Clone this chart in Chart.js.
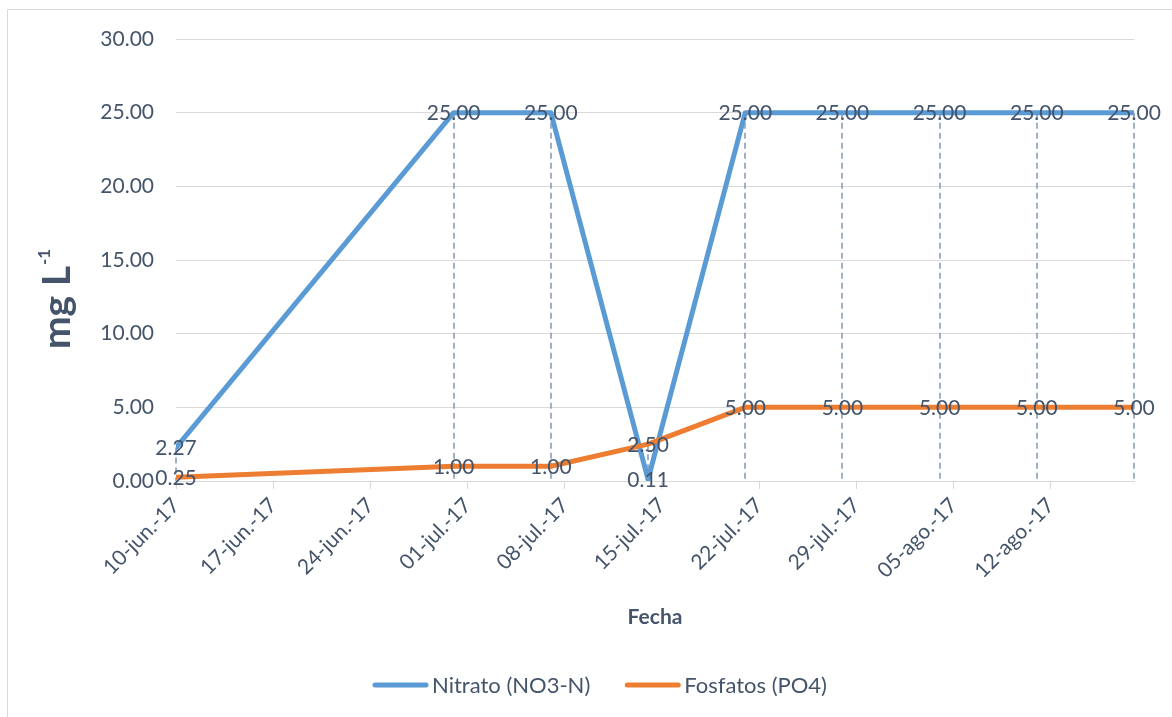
<!DOCTYPE html>
<html>
<head>
<meta charset="utf-8">
<script src="https://cdn.jsdelivr.net/npm/chart.js@4.4.0/dist/chart.umd.min.js"></script>
<style>
  body { margin: 0; background: #fff; }
  canvas { display: block; }
</style>
</head>
<body>
<canvas id="nutrient-chart" width="1172" height="717"></canvas>
<script>
var sampleDates = ['2017-06-10','2017-06-30','2017-07-07','2017-07-14','2017-07-21','2017-07-28','2017-08-04','2017-08-11','2017-08-18'];
var nitrato = [2.27, 25, 25, 0.11, 25, 25, 25, 25, 25];
var fosfatos = [0.25, 1, 1, 2.5, 5, 5, 5, 5, 5];
var xTickLabels = ['10-jun.-17','17-jun.-17','24-jun.-17','01-jul.-17','08-jul.-17','15-jul.-17','22-jul.-17','29-jul.-17','05-ago.-17','12-ago.-17'];

var textColor = '#44546A';
var gridColor = '#D9D9D9';
var fontFamily = 'Lato';

var startDay = Date.UTC(2017, 5, 10);
function dayOffset(s) {
  var p = s.split('-');
  return (Date.UTC(+p[0], +p[1] - 1, +p[2]) - startDay) / 86400000;
}
function toPoints(values) {
  return values.map(function (v, i) { return { x: dayOffset(sampleDates[i]), y: v }; });
}

// frame, drop lines, value labels, axis titles and legend
var extras = {
  id: 'extras',
  beforeDraw: function (chart) {
    var ctx = chart.ctx;
    ctx.save();
    ctx.strokeStyle = gridColor;
    ctx.lineWidth = 1;
    ctx.beginPath();
    ctx.moveTo(7.5, 717);
    ctx.lineTo(7.5, 9.5);
    ctx.lineTo(1172, 9.5);
    ctx.stroke();
    ctx.restore();
  },
  beforeDatasetsDraw: function (chart) {
    var ctx = chart.ctx;
    var bottom = chart.chartArea.bottom;
    var m0 = chart.getDatasetMeta(0).data;
    var m1 = chart.getDatasetMeta(1).data;
    ctx.save();
    ctx.strokeStyle = '#8497B0';
    ctx.lineWidth = 1.5;
    ctx.setLineDash([6, 4]);
    for (var i = 0; i < m0.length; i++) {
      var top = Math.min(m0[i].y, m1[i].y);
      ctx.beginPath();
      ctx.moveTo(Math.round(m0[i].x), top);
      ctx.lineTo(Math.round(m0[i].x), bottom);
      ctx.stroke();
    }
    ctx.restore();
  },
  afterDatasetsDraw: function (chart) {
    var ctx = chart.ctx;
    ctx.save();
    ctx.fillStyle = textColor;
    ctx.font = '21px ' + fontFamily;
    ctx.textAlign = 'center';
    ctx.textBaseline = 'middle';
    chart.data.datasets.forEach(function (ds, d) {
      chart.getDatasetMeta(d).data.forEach(function (pt, i) {
        ctx.fillText(ds.data[i].y.toFixed(2), pt.x, pt.y + 1);
      });
    });
    ctx.restore();
  },
  afterDraw: function (chart) {
    var ctx = chart.ctx;
    ctx.save();
    ctx.fillStyle = textColor;

    // y title with superscript
    ctx.translate(70, 299);
    ctx.rotate(-Math.PI / 2);
    ctx.font = 'bold 39px ' + fontFamily;
    var main = 'mg L';
    var wMain = ctx.measureText(main).width;
    ctx.font = 'bold 17px ' + fontFamily;
    var sup = '-1';
    var wSup = ctx.measureText(sup).width;
    var x0 = -(wMain + wSup + 1) / 2;
    ctx.textBaseline = 'alphabetic';
    ctx.textAlign = 'left';
    ctx.font = 'bold 39px ' + fontFamily;
    ctx.fillText(main, x0, 0);
    ctx.font = 'bold 17px ' + fontFamily;
    ctx.fillText(sup, x0 + wMain + 1, -20);
    ctx.setTransform(1, 0, 0, 1, 0, 0);

    // x title
    ctx.font = 'bold 21px ' + fontFamily;
    ctx.textAlign = 'center';
    ctx.textBaseline = 'middle';
    ctx.fillText('Fecha', (chart.chartArea.left + chart.chartArea.right) / 2, 617);

    // legend
    ctx.font = '22px ' + fontFamily;
    var lineLen = 55, gapText = 4, gapItem = 35;
    var items = chart.data.datasets.map(function (ds) {
      return { label: ds.label, color: ds.borderColor, w: ctx.measureText(ds.label).width };
    });
    var total = 0;
    items.forEach(function (it, i) { total += lineLen + gapText + it.w + (i ? gapItem : 0); });
    var x = 600 - total / 2;
    var y = 685;
    ctx.textAlign = 'left';
    items.forEach(function (it) {
      ctx.strokeStyle = it.color;
      ctx.lineWidth = 5;
      ctx.lineCap = 'round';
      ctx.beginPath();
      ctx.moveTo(x + 2, y);
      ctx.lineTo(x + lineLen - 2, y);
      ctx.stroke();
      ctx.fillText(it.label, x + lineLen + gapText, y + 1);
      x += lineLen + gapText + it.w + gapItem;
    });
    ctx.restore();
  }
};

var chart = new Chart(document.getElementById('nutrient-chart'), {
  type: 'line',
  data: {
    datasets: [
      {
        label: 'Nitrato (NO3-N)',
        data: toPoints(nitrato),
        borderColor: '#5B9BD5',
        backgroundColor: '#5B9BD5',
        borderWidth: 5,
        borderCapStyle: 'round',
        borderJoinStyle: 'round',
        pointRadius: 0,
        tension: 0,
        order: 2
      },
      {
        label: 'Fosfatos (PO4)',
        data: toPoints(fosfatos),
        borderColor: '#ED7D31',
        backgroundColor: '#ED7D31',
        borderWidth: 5,
        borderCapStyle: 'round',
        borderJoinStyle: 'round',
        pointRadius: 0,
        tension: 0,
        order: 1
      }
    ]
  },
  options: {
    responsive: false,
    animation: false,
    layout: { padding: { left: 0, right: 38, top: 39, bottom: 0 } },
    plugins: {
      legend: { display: false },
      tooltip: { enabled: false }
    },
    scales: {
      x: {
        type: 'linear',
        min: 0,
        max: dayOffset(sampleDates[sampleDates.length - 1]),
        afterBuildTicks: function (scale) {
          scale.ticks = scale.ticks.filter(function (t) { return t.value % 7 === 0; });
        },
        afterFit: function (scale) { scale.height = 717 - 481; },
        ticks: {
          stepSize: 7,
          minRotation: 45,
          maxRotation: 45,
          padding: 4,
          color: textColor,
          font: { family: fontFamily, size: 21 },
          callback: function (v) { return xTickLabels[v / 7]; }
        },
        grid: { drawOnChartArea: false, drawTicks: true, tickLength: 8, color: gridColor },
        border: { color: gridColor }
      },
      y: {
        min: 0,
        max: 30,
        afterFit: function (scale) { scale.width = 176; },
        ticks: {
          stepSize: 5,
          padding: 22,
          color: textColor,
          font: { family: fontFamily, size: 21 },
          callback: function (v) { return v.toFixed(2); }
        },
        grid: { color: gridColor, drawTicks: false },
        border: { display: false }
      }
    }
  },
  plugins: [extras]
});
</script>
</body>
</html>
